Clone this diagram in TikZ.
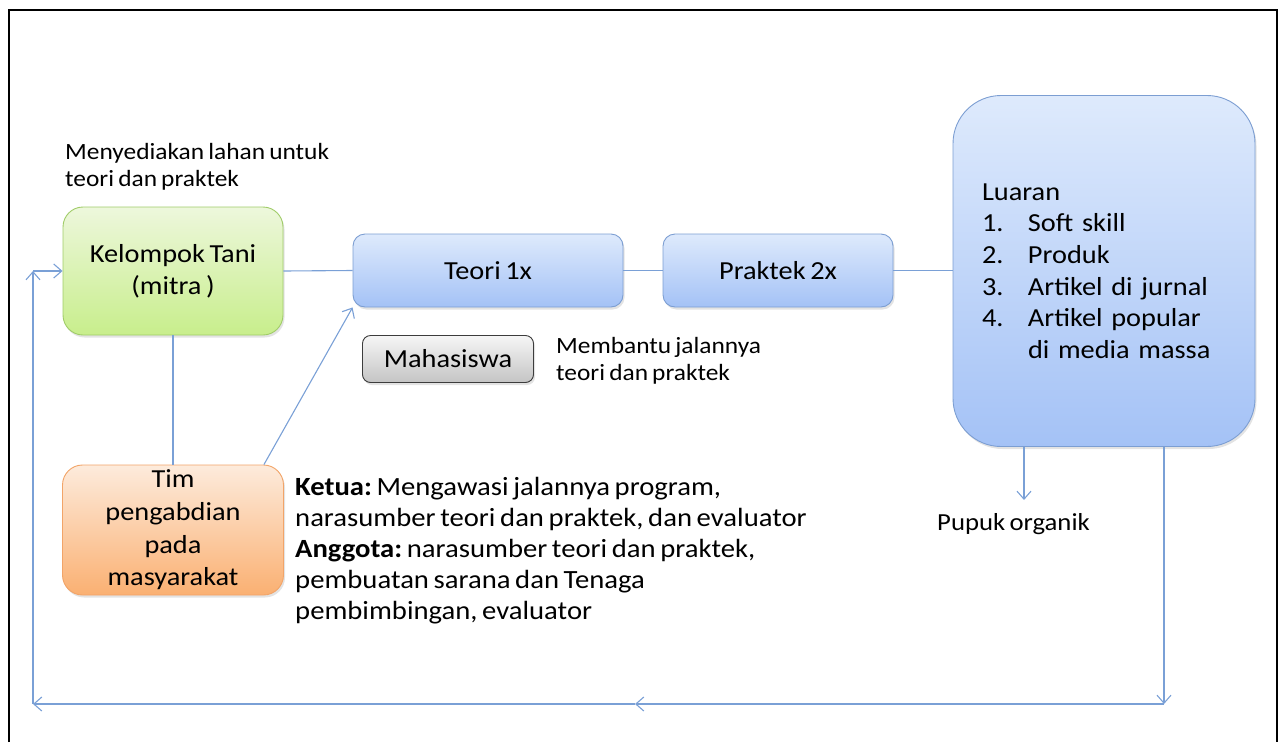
\documentclass[tikz,border=0pt]{standalone}
\usepackage{fontspec}
\setmainfont{Carlito}[FakeStretch=1.09, WordSpace=0.72]
\frenchspacing
\usetikzlibrary{arrows.meta,shadows}
\definecolor{linkblue}{RGB}{122,160,214}
\definecolor{bluetop}{RGB}{222,234,252}
\definecolor{bluebot}{RGB}{164,194,246}
\definecolor{blueedge}{RGB}{124,158,210}
\definecolor{greentop}{RGB}{237,247,220}
\definecolor{greenbot}{RGB}{200,238,140}
\definecolor{greenedge}{RGB}{160,204,104}
\definecolor{orangetop}{RGB}{253,235,220}
\definecolor{orangebot}{RGB}{250,176,114}
\definecolor{orangeedge}{RGB}{242,164,104}
\definecolor{graytop}{RGB}{246,246,246}
\definecolor{graybot}{RGB}{196,196,196}
\definecolor{grayedge}{RGB}{60,60,60}
\tikzset{
	box/.style={draw, line width=0.9pt, rounded corners=12pt, align=center,
		font=\fontsize{26}{32}\selectfont,
		drop shadow={shadow xshift=1.5pt, shadow yshift=-2.5pt, opacity=0.22}},
	bluebox/.style={box, draw=blueedge, top color=bluetop, bottom color=bluebot},
	greenbox/.style={box, draw=greenedge, top color=greentop, bottom color=greenbot},
	orangebox/.style={box, draw=orangeedge, top color=orangetop, bottom color=orangebot},
	graybox/.style={box, draw=grayedge, top color=graytop, bottom color=graybot},
	note/.style={inner sep=0pt, align=left, font=\fontsize{23.3}{27}\selectfont},
	link/.style={draw=linkblue, line width=1.1pt},
	>={Straight Barb[length=8pt,width=14pt]}
}

\begin{document}
\begin{tikzpicture}[x=1pt, y=-1pt]
	\useasboundingbox (0,0) rectangle (1282,742);
	\draw[line width=2.5pt] (9,742) -- (9,10) -- (1277,10) -- (1277,742);

	\node[greenbox, minimum width=220pt, minimum height=128pt, rounded corners=20pt] (tani) at (173,271) {Kelompok Tani\\(mitra )};
	\node[bluebox, minimum width=270pt, minimum height=73pt] (teori) at (488,270.5) {Teori 1x};
	\node[bluebox, minimum width=230pt, minimum height=73pt] (praktek) at (778,270.5) {Praktek 2x};
	\node[bluebox, minimum height=351pt, rounded corners=48pt, text width=244pt, inner xsep=29pt, align=left,
		font=\fontsize{26}{31.5}\selectfont] (luaran) at (1104,271)
		{Luaran\\\makebox[46pt][l]{1.}Soft skill\\\makebox[46pt][l]{2.}Produk\\\makebox[46pt][l]{3.}Artikel di jurnal\\\makebox[46pt][l]{4.}Artikel popular\\\hspace*{46pt}di media massa};
	\node[graybox, minimum width=171pt, minimum height=47pt, rounded corners=8pt] (mhs) at (448,359) {Mahasiswa};
	\node[orangebox, minimum width=221pt, minimum height=130pt, rounded corners=20pt,
		font=\fontsize{26}{32.7}\selectfont] (tim) at (173,530) {Tim\\pengabdian\\pada\\masyarakat};

	\node[note, anchor=north west] (lahan) at (65,143) {Menyediakan lahan untuk\\teori dan praktek};
	\node[note, anchor=north west] (bantu) at (556,337) {Membantu jalannya\\teori dan praktek};
	\node[note, anchor=north west, font=\fontsize{26.3}{31}\selectfont] (tugas) at (295,477)
		{\textbf{Ketua:} Mengawasi jalannya program,\\narasumber teori dan praktek, dan evaluator\\\textbf{Anggota:} narasumber teori dan praktek,\\pembuatan sarana dan Tenaga\\pembimbingan, evaluator};
	\node[anchor=west, inner sep=0pt, font=\fontsize{24.5}{29}\selectfont] (pupuk) at (937,524) {Pupuk organik};

	\coordinate (p1) at (1024,500);
	\coordinate (c1) at (1164,704);
	\coordinate (c2) at (635,704);
	\coordinate (c3) at (33,704);
	\coordinate (c4) at (33,271);

	\draw[link] (tani.east) -- (teori.west);
	\draw[link] (teori.east) -- (praktek.west);
	\draw[link] (praktek.east) -- (praktek.east -| luaran.west);
	\draw[link] (tani.south) -- (tim.north);
	\draw[link, ->] ([xshift=-20pt]tim.north east) -- (teori.south west);
	\draw[link, ->] (luaran.south -| p1) -- (p1);
	\draw[link, ->] (luaran.south -| c1) -- (c1);
	\draw[link, ->] (c1) -- (c2);
	\draw[link, ->] (c2) -- (c3);
	\draw[link, ->] (c3) -- (c4);
	\draw[link, ->] (c4) -- (tani.west);
\end{tikzpicture}
\end{document}
